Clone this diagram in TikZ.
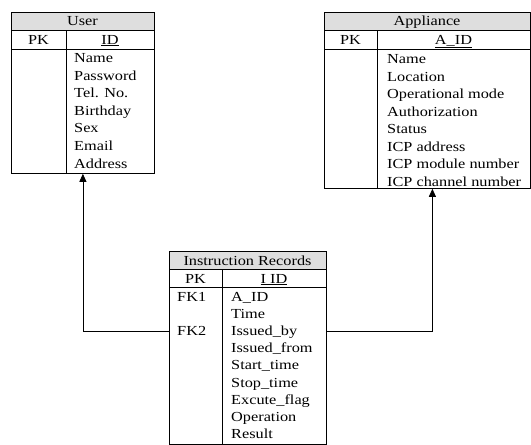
\documentclass[tikz,border=0pt]{standalone}
\usepackage{fontspec}
\setmainfont[FakeStretch=1.18]{Liberation Serif}
\usetikzlibrary{arrows.meta}

\tikzset{
    tbl/.style={draw, line width=0.8pt, inner sep=0pt, anchor=north west},
    hdr/.style={draw, line width=0.8pt, fill=black!13},
    rule/.style={line width=0.8pt},
    txt/.style={anchor=base, inner sep=0pt},
    fld/.style={anchor=base west, inner sep=0pt},
    conn/.style={line width=0.8pt, -{Triangle[length=8pt,width=7pt]}}
}

\begin{document}
\begin{tikzpicture}[x=1pt, y=-1pt, font=\fontsize{13.8pt}{16pt}\selectfont]
                    \useasboundingbox (0,0) rectangle (531,445);

                    % User table
                    \node[tbl, minimum width=143pt, minimum height=161pt] (user) at (11,12) {};
                    \draw[hdr] (11,12) rectangle (154,30);
                    \draw[rule] (11,49) -- (154,49);
                    \draw[rule] (66,30) -- (66,173);
                    \node[txt] (usertitle) at (82.5,25.5) {User};
                    \node[txt] (userpk) at (38.5,44) {PK};
                    \node[txt] (userid) at (110,44) {\underline{ID}};
                    \foreach \f [count=\i from 0] in {Name, Password, Tel. No., Birthday, Sex, Email, Address}
                        \node[fld] (u\i) at (74,62.5+17.6*\i) {\f};

                    % Appliance table
                    \node[tbl, minimum width=206pt, minimum height=176pt] (appl) at (324,12) {};
                    \draw[hdr] (324,12) rectangle (530,30);
                    \draw[rule] (324,49) -- (530,49);
                    \draw[rule] (377,30) -- (377,188);
                    \node[txt] (appltitle) at (427,25.5) {Appliance};
                    \node[txt] (applpk) at (350.5,44) {PK};
                    \node[txt] (applid) at (453.5,44) {\underline{A\_ID}};
                    \foreach \f [count=\i from 0] in {Name, Location, Operational mode, Authorization, Status, ICP address, ICP module number, ICP channel number}
                        \node[fld] (a\i) at (387,63.5+17.5*\i) {\f};

                    % Instruction Records table
                    \node[tbl, minimum width=157pt, minimum height=193pt] (instr) at (169,251) {};
                    \draw[hdr] (169,251) rectangle (326,269);
                    \draw[rule] (169,287) -- (326,287);
                    \draw[rule] (222,269) -- (222,444);
                    \node[txt] (instrtitle) at (247.5,265.5) {Instruction Records};
                    \node[txt] (instrpk) at (195.5,283) {PK};
                    \node[txt] (instrid) at (274,283) {\underline{I ID}};
                    \node[fld] (fk1) at (177,301.5) {FK1};
                    \node[fld] (fk2) at (177,335.7) {FK2};
                    \foreach \f [count=\i from 0] in {A\_ID, Time, Issued\_by, Issued\_from, Start\_time, Stop\_time, Excute\_flag, Operation, Result}
                        \node[fld] (r\i) at (231,301.5+17.1*\i) {\f};

                    % links
                    \draw[conn] (fk2 -| instr.west) -| (user.south);
                    \draw[conn] (fk2 -| instr.east) -| ([xshift=5pt]appl.south);
                \end{tikzpicture}
\end{document}
